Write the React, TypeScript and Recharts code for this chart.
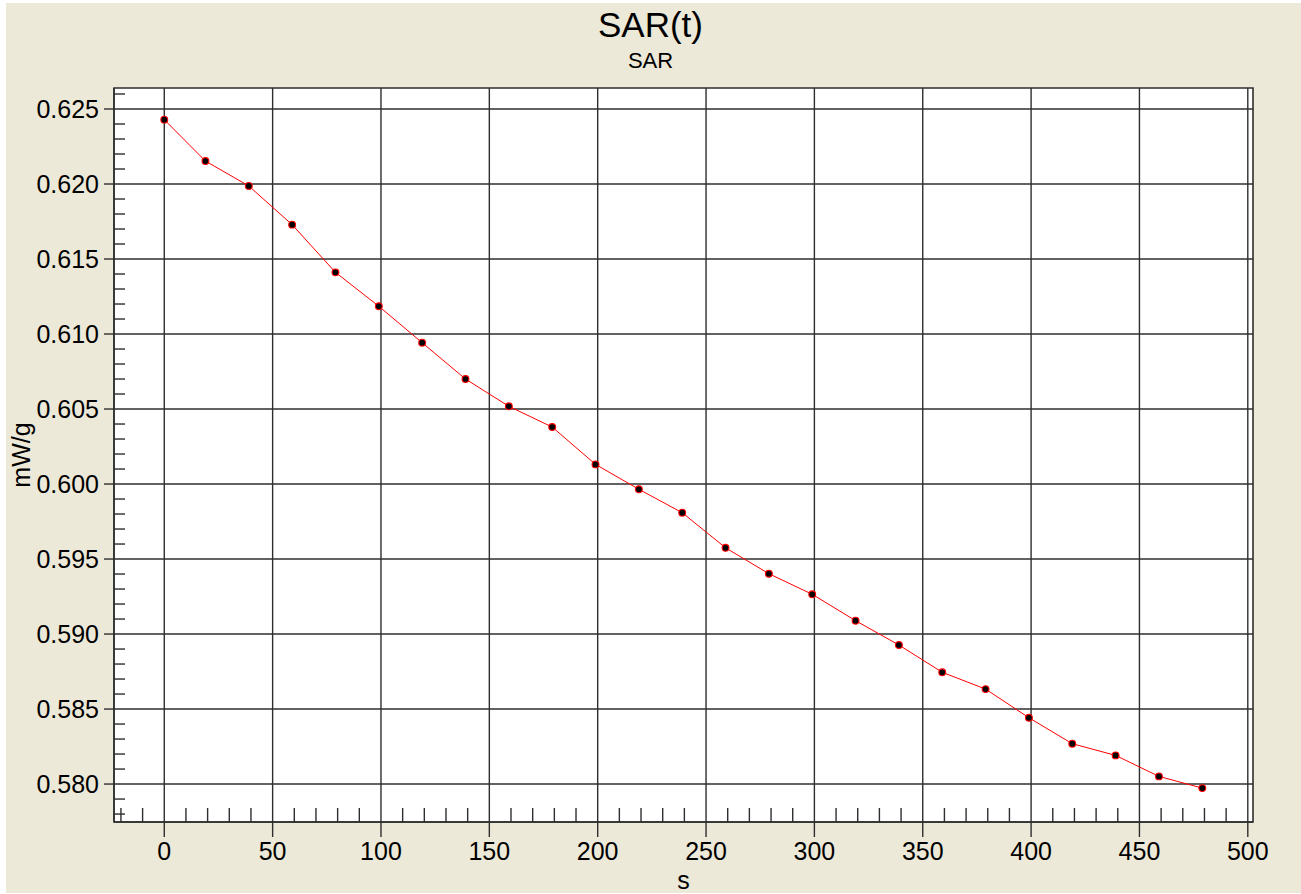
import React from 'react';
import {
  LineChart,
  Line,
  XAxis,
  YAxis,
  CartesianGrid,
  ReferenceArea,
} from 'recharts';

// ---- data ----
const timeSeconds = [0, 19, 39, 59, 79, 99, 119, 139, 159, 179, 199, 219, 239, 259, 279, 299, 319, 339, 359, 379, 399, 419, 439, 459, 479];
const sarValues = [
  0.62429, 0.62153, 0.61987, 0.61729, 0.61411, 0.61185, 0.60942, 0.6070, 0.60518, 0.6038,
  0.60131, 0.59965, 0.59809, 0.59575, 0.59402, 0.59265, 0.59089, 0.58927, 0.58745, 0.58633,
  0.58442, 0.58269, 0.58191, 0.58051, 0.57973,
];

const xMajorTicks = [0, 50, 100, 150, 200, 250, 300, 350, 400, 450, 500];
const xMinorTicks = [-20, -10, 10, 20, 30, 40, 60, 70, 80, 90, 110, 120, 130, 140, 160, 170, 180, 190, 210, 220, 230, 240, 260, 270, 280, 290, 310, 320, 330, 340, 360, 370, 380, 390, 410, 420, 430, 440, 460, 470, 480, 490];
const yMajorTicks = [0.58, 0.585, 0.59, 0.595, 0.6, 0.605, 0.61, 0.615, 0.62, 0.625];
const yMinorTicks = [0.578, 0.579, 0.581, 0.582, 0.583, 0.584, 0.586, 0.587, 0.588, 0.589, 0.591, 0.592, 0.593, 0.594, 0.596, 0.597, 0.598, 0.599, 0.601, 0.602, 0.603, 0.604, 0.606, 0.607, 0.608, 0.609, 0.611, 0.612, 0.613, 0.614, 0.616, 0.617, 0.618, 0.619, 0.621, 0.622, 0.623, 0.624, 0.626];

const xDomain: [number, number] = [-23.2, 502.4];
const yDomain: [number, number] = [0.57747, 0.6264];

const titleText = 'SAR(t)';
const subtitleText = 'SAR';
const xLabel = 's';
const yLabel = 'mW/g';

const data = timeSeconds.map((t, i) => ({ t, sar: sarValues[i] }));

const FONT = '"Liberation Sans", Arial, sans-serif';
const GRID = '#2e2e2e';

const Dot = (props: any) => {
  const { cx, cy } = props;
  if (cx == null || cy == null) return null;
  return <circle cx={cx} cy={cy} r={3.4} fill="#000" stroke="#ff0000" strokeWidth={1.1} />;
};

const EmptyTick = () => <g />;

export default function App() {
  return (
    <div style={{ position: 'absolute', left: 0, top: 0, width: 1301, height: 894, background: '#ffffff', overflow: 'hidden' }}>
      <div style={{ position: 'absolute', left: 6, top: 3, width: 1295, height: 890, background: '#ECE9D8' }} />
      <div style={{ position: 'absolute', left: 0, top: 0 }}>
        <LineChart
          width={1301}
          height={894}
          data={data}
          margin={{ top: 88, right: 48, bottom: 0, left: 0 }}
          style={{ fontFamily: FONT }}
        >
          <CartesianGrid
            stroke={GRID}
            strokeWidth={1.4}
            fill="#ffffff"
            fillOpacity={1}
            horizontalValues={yMajorTicks}
            verticalValues={xMajorTicks}
          />
          <XAxis
            dataKey="t"
            type="number"
            domain={xDomain}
            allowDataOverflow
            ticks={xMajorTicks}
            interval={0}
            height={72}
            tickSize={15}
            tickMargin={5}
            axisLine={{ stroke: GRID, strokeWidth: 1.4 }}
            tickLine={{ stroke: GRID, strokeWidth: 1.4 }}
            tick={{ fill: '#000', fontSize: 25, fontFamily: FONT }}
          />
          <XAxis
            xAxisId="minor"
            dataKey="t"
            type="number"
            domain={xDomain}
            allowDataOverflow
            ticks={xMinorTicks}
            interval={0}
            orientation="bottom"
            mirror
            height={20}
            tickSize={14}
            axisLine={false}
            tickLine={{ stroke: GRID, strokeWidth: 1.4 }}
            tick={EmptyTick}
          />
          <YAxis
            type="number"
            domain={yDomain}
            allowDataOverflow
            ticks={yMajorTicks}
            interval={0}
            width={114}
            tickSize={10}
            tickMargin={5}
            tickFormatter={(v: number) => v.toFixed(3)}
            axisLine={{ stroke: GRID, strokeWidth: 1.4 }}
            tickLine={{ stroke: GRID, strokeWidth: 1.4 }}
            tick={{ fill: '#000', fontSize: 25, fontFamily: FONT }}
          />
          <YAxis
            yAxisId="minor"
            type="number"
            domain={yDomain}
            allowDataOverflow
            ticks={yMinorTicks}
            interval={0}
            orientation="left"
            mirror
            width={20}
            tickSize={11}
            axisLine={false}
            tickLine={{ stroke: GRID, strokeWidth: 1.4 }}
            tick={EmptyTick}
          />
          <ReferenceArea
            x1={xDomain[0]}
            x2={xDomain[1]}
            y1={yDomain[0]}
            y2={yDomain[1]}
            fill="none"
            fillOpacity={0}
            stroke={GRID}
            strokeWidth={1.6}
            ifOverflow="visible"
          />
          <Line
            dataKey="sar"
            stroke="#ff0000"
            strokeWidth={1}
            dot={<Dot />}
            activeDot={false}
            isAnimationActive={false}
          />
        </LineChart>
      </div>
      <svg width={1301} height={894} style={{ position: 'absolute', left: 0, top: 0, pointerEvents: 'none' }}>
        <text x={650.5} y={37} textAnchor="middle" fontFamily={FONT} fontSize={35} fill="#000">{titleText}</text>
        <text x={650.5} y={68} textAnchor="middle" fontFamily={FONT} fontSize={22} fill="#000">{subtitleText}</text>
        <text x={683.5} y={889} textAnchor="middle" fontFamily={FONT} fontSize={25} fill="#000">{xLabel}</text>
        <text transform="translate(29.5,455) rotate(-90)" x={0} y={0} textAnchor="middle" fontFamily={FONT} fontSize={25} fill="#000">{yLabel}</text>
      </svg>
    </div>
  );
}
